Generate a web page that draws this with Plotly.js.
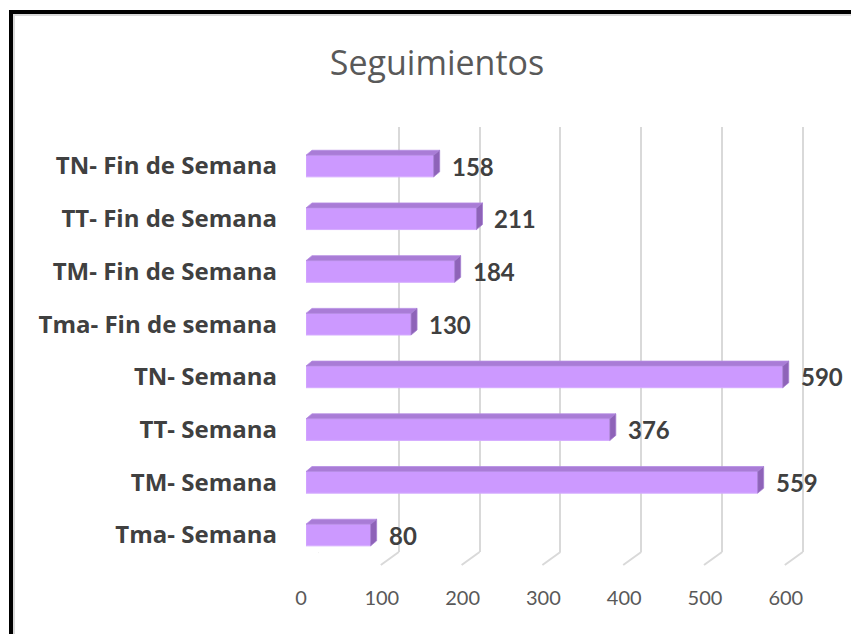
<!DOCTYPE html>
<html>
<head>
<meta charset="utf-8">
<script src="https://cdn.plot.ly/plotly-3.0.1.min.js"></script>
<style>
  html, body { margin: 0; padding: 0; background: #ffffff; }
  #wrap { position: relative; width: 851px; height: 634px; overflow: hidden; }
  #chart { position: absolute; left: 0; top: 0; width: 851px; height: 634px; }
  #frame { position: absolute; left: 9px; top: 10px; width: 900px; height: 700px;
           border-left: 4px solid #000; border-top: 4px solid #000; pointer-events: none; }
  #frame2 { position: absolute; left: 13px; top: 14px; width: 900px; height: 700px;
           border-left: 2px solid #d9d9d9; border-top: 2px solid #d9d9d9; pointer-events: none; }
</style>
</head>
<body>
<div id="wrap">
  <div id="chart"></div>
  <div id="frame2"></div>
  <div id="frame"></div>
</div>
<script>
// ---- data (bottom to top, as drawn) ----
const categories = [
  'Tma- Semana',
  'TM- Semana',
  'TT- Semana',
  'TN- Semana',
  'Tma- Fin de semana',
  'TM- Fin de Semana',
  'TT- Fin de Semana',
  'TN- Fin de Semana'
];
const values = [80, 559, 376, 590, 130, 184, 211, 158];
const tickValues = [0, 100, 200, 300, 400, 500, 600];
const tickLabels = ['0', '100', '200', '300', '400', '500', '600'];

// ---- geometry / style ----
const W = 851, H = 634;
const XMAX = 650;
const PX_PER_UNIT = 0.808;
const barLeft = 306, gridLeft = 318;
const barPlotW = XMAX * PX_PER_UNIT;
const BAR_W = 0.41;
const catPx = 52.71;
const half = BAR_W * catPx / 2;
const DX = 6, DY = 5;

const frontColor = '#CC99FF';
const topColor = '#A97CD6';
const sideColor = '#8E63B8';
const edgeColor = '#D5ABFF';

const shapes = [];
// floor diagonals from the back gridlines
tickValues.forEach(t => {
  shapes.push({
    type: 'path', layer: 'below',
    xref: 'x', yref: 'y domain',
    xsizemode: 'pixel', ysizemode: 'pixel',
    xanchor: t, yanchor: 0,
    path: 'M0,0L-18,-13',
    line: { color: '#D9D9D9', width: 2 }
  });
});
// 3D faces of bars
categories.forEach((c, i) => {
  const v = values[i];
  const ddx = DX / PX_PER_UNIT;
  shapes.push({
    type: 'path', layer: 'above',
    xref: 'x2', yref: 'y2',
    ysizemode: 'pixel', yanchor: c,
    path: `M0,${half}L${v},${half}L${v + ddx},${half + DY}L${ddx},${half + DY}Z`,
    fillcolor: topColor, line: { color: '#B58BE3', width: 0.8 }
  });
  shapes.push({
    type: 'path', layer: 'above',
    xref: 'x2', yref: 'y2',
    xsizemode: 'pixel', ysizemode: 'pixel',
    xanchor: v, yanchor: c,
    path: `M0,${-half}L0,${half}L${DX},${half + DY}L${DX},${-half + DY}Z`,
    fillcolor: sideColor, line: { color: '#A57DD0', width: 0.8 }
  });
});

const annotations = categories.map((c, i) => ({
  x: values[i], y: c, xref: 'x2', yref: 'y2',
  text: String(values[i]), showarrow: false,
  xanchor: 'left', yanchor: 'middle', xshift: 16, yshift: 0,
  font: { family: 'Lato', size: 24, color: '#404040', weight: 'bold' }
}));

const traces = [
  { type: 'scatter', x: [], y: [], xaxis: 'x', yaxis: 'y', showlegend: false, hoverinfo: 'skip' },
  {
    type: 'bar', orientation: 'h',
    x: values, y: categories, xaxis: 'x2', yaxis: 'y2',
    width: BAR_W,
    marker: { color: frontColor, line: { color: edgeColor, width: 1 } },
    showlegend: false, hoverinfo: 'skip'
  }
];

const layout = {
  width: W, height: H,
  margin: { l: 0, r: 0, t: 0, b: 0, pad: 0 },
  paper_bgcolor: '#ffffff', plot_bgcolor: 'rgba(0,0,0,0)',
  showlegend: false,
  title: {
    text: 'Seguimientos', xref: 'paper', yref: 'paper',
    x: 437 / W, xanchor: 'center', y: 1 - 63 / H, yanchor: 'middle',
    font: { family: 'Open Sans', size: 34, color: '#595959' }
  },
  xaxis: {
    domain: [gridLeft / W, (gridLeft + barPlotW) / W],
    range: [0, XMAX], anchor: 'y',
    showgrid: true, gridcolor: '#D9D9D9', gridwidth: 2,
    zeroline: false, showline: false,
    tickmode: 'array', tickvals: tickValues, ticktext: tickLabels,
    ticks: '', ticklabelshift: -17, ticklabelstandoff: 32,
    tickfont: { family: 'Lato', size: 20, color: '#595959' },
    fixedrange: true
  },
  yaxis: {
    domain: [1 - 552 / H, 1 - 127 / H],
    range: [0, 1], anchor: 'x',
    showgrid: false, zeroline: false, showline: false, showticklabels: false, ticks: '',
    fixedrange: true
  },
  xaxis2: {
    domain: [barLeft / W, (barLeft + barPlotW) / W],
    range: [0, XMAX], anchor: 'y2',
    showgrid: false, zeroline: false, showline: false, showticklabels: false, ticks: '',
    fixedrange: true
  },
  yaxis2: {
    domain: [1 - 561.4 / H, 1 - 139.7 / H],
    type: 'category', categoryorder: 'array', categoryarray: categories,
    range: [-0.5, categories.length - 0.5], anchor: 'x2',
    showgrid: false, zeroline: false, showline: false, ticks: '',
    ticklabelstandoff: 28,
    tickfont: { family: 'Open Sans', size: 24, color: '#404040', weight: 'bold' },
    fixedrange: true
  },
  shapes: shapes,
  annotations: annotations
};

Plotly.newPlot('chart', traces, layout, { displayModeBar: false, staticPlot: true });
</script>
</body>
</html>
